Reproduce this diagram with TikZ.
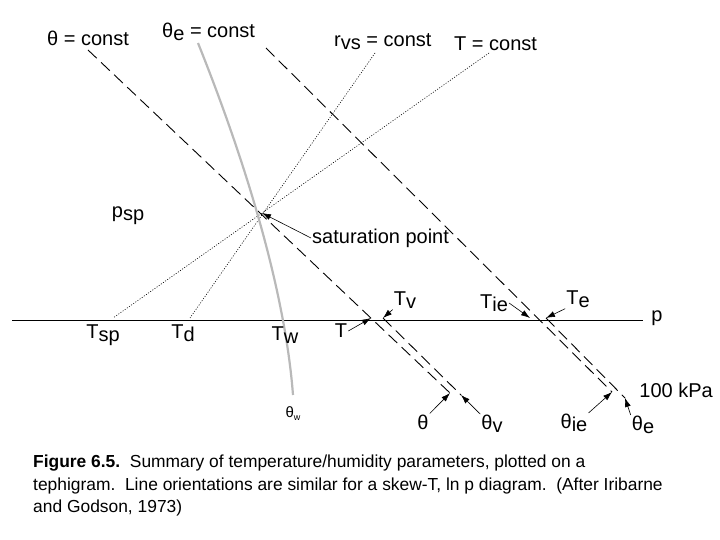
\documentclass[tikz,border=0pt]{standalone}
\usepackage{fontspec}
\setmainfont{Liberation Sans}
\usetikzlibrary{arrows.meta}
\begin{document}
\begin{tikzpicture}[x=1pt,y=-1pt,
  dsh/.style={dash pattern=on 12pt off 6pt, line width=0.9pt},
  dot/.style={dash pattern=on 1pt off 1.6pt, line width=0.6pt},
  lab/.style={font=\fontsize{20}{22}\selectfont, inner sep=1pt},
  arr/.style={-{Latex[length=9pt,width=6pt]}, line width=0.6pt}]
\useasboundingbox (0,0) rectangle (720,540);
% points
\coordinate (sp) at (262,213);
\coordinate (thS) at (88,50); \coordinate (thE) at (450,393);
\coordinate (T) at (371,318);
\coordinate (tvS) at (383,318); \coordinate (tvE) at (461,395);
\coordinate (Tv) at (383,318);
\coordinate (ieS) at (266,48); \coordinate (ieE) at (612,392);
\coordinate (Tie) at (530,318);
\coordinate (teS) at (546,318); \coordinate (teE) at (625,398);
\coordinate (Te) at (546,318);
\coordinate (pL) at (12,320); \coordinate (pR) at (643,320);
% lines
\draw[line width=0.8pt] (pL) -- (pR);
\draw[dsh] (thS) -- (thE);
\draw[dsh] (tvS) -- (tvE);
\draw[dsh] (ieS) -- (ieE);
\draw[dsh] (teS) -- (teE);
\draw[dot] (375,53) -- (190,318);
\draw[dot] (489,53) -- (113,318);
\draw[gray!55, line width=2.2pt] (198,43) .. controls (245,160) and (285,290) .. (293,395);
% labels
\node[lab, anchor=west] at (46,38) {θ = const};
\node[lab, anchor=west] at (161,32) {θ\raisebox{-3pt}{e} = const};
\node[lab, anchor=west] at (333,42) {r\raisebox{-3pt}{vs} = const};
\node[lab, anchor=west] at (453,44) {T = const};
\node[lab] (psp) at (128,216) {p\raisebox{-3pt}{sp}};
\node[lab, anchor=west] (satl) at (311,238) {saturation point};
\draw[arr] (satl.west) -- (sp);
\node[lab] at (103,335) {T\raisebox{-3pt}{sp}};
\node[lab] at (183,333) {T\raisebox{-3pt}{d}};
\node[lab] at (285,335) {T\raisebox{-3pt}{w}};
\node[lab] (Tl) at (341,331) {T};
\draw[arr] (Tl.east) -- (T);
\node[lab] (Tvl) at (405,300) {T\raisebox{-3pt}{v}};
\draw[arr] (Tvl.south west) -- (Tv);
\node[lab] (Tiel) at (494,303) {T\raisebox{-3pt}{ie}};
\draw[arr] (Tiel.east) -- (Tie);
\node[lab] (Tel) at (578,299) {T\raisebox{-3pt}{e}};
\draw[arr] (Tel.south west) -- (Te);
\node[lab] at (657,318) {p};
\node[lab, anchor=east] at (714,390) {100 kPa};
\node[font=\fontsize{15}{17}\selectfont] at (293,414) {θ\raisebox{-3pt}{\small w}};
\node[lab] (thl) at (423,422) {θ};
\draw[arr] (thl.north east) -- (thE);
\node[lab] (tvl) at (492,424) {θ\raisebox{-3pt}{v}};
\draw[arr] (tvl.north west) -- (tvE);
\node[lab] (iel) at (574,423) {θ\raisebox{-3pt}{ie}};
\draw[arr] (iel.north east) -- (ieE);
\node[lab] (tel) at (643,425) {θ\raisebox{-3pt}{e}};
\draw[arr] (tel.north west) -- (teE);
\node[anchor=north west, align=left, font=\fontsize{17.4}{22.5}\selectfont, inner sep=0pt] at (33,455)
{\textbf{Figure 6.5.}\ \ Summary of temperature/humidity parameters, plotted on a\\
tephigram.\ \ Line orientations are similar for a skew-T, ln p diagram.\ \ (After Iribarne\\
and Godson, 1973)};
\end{tikzpicture}
\end{document}
